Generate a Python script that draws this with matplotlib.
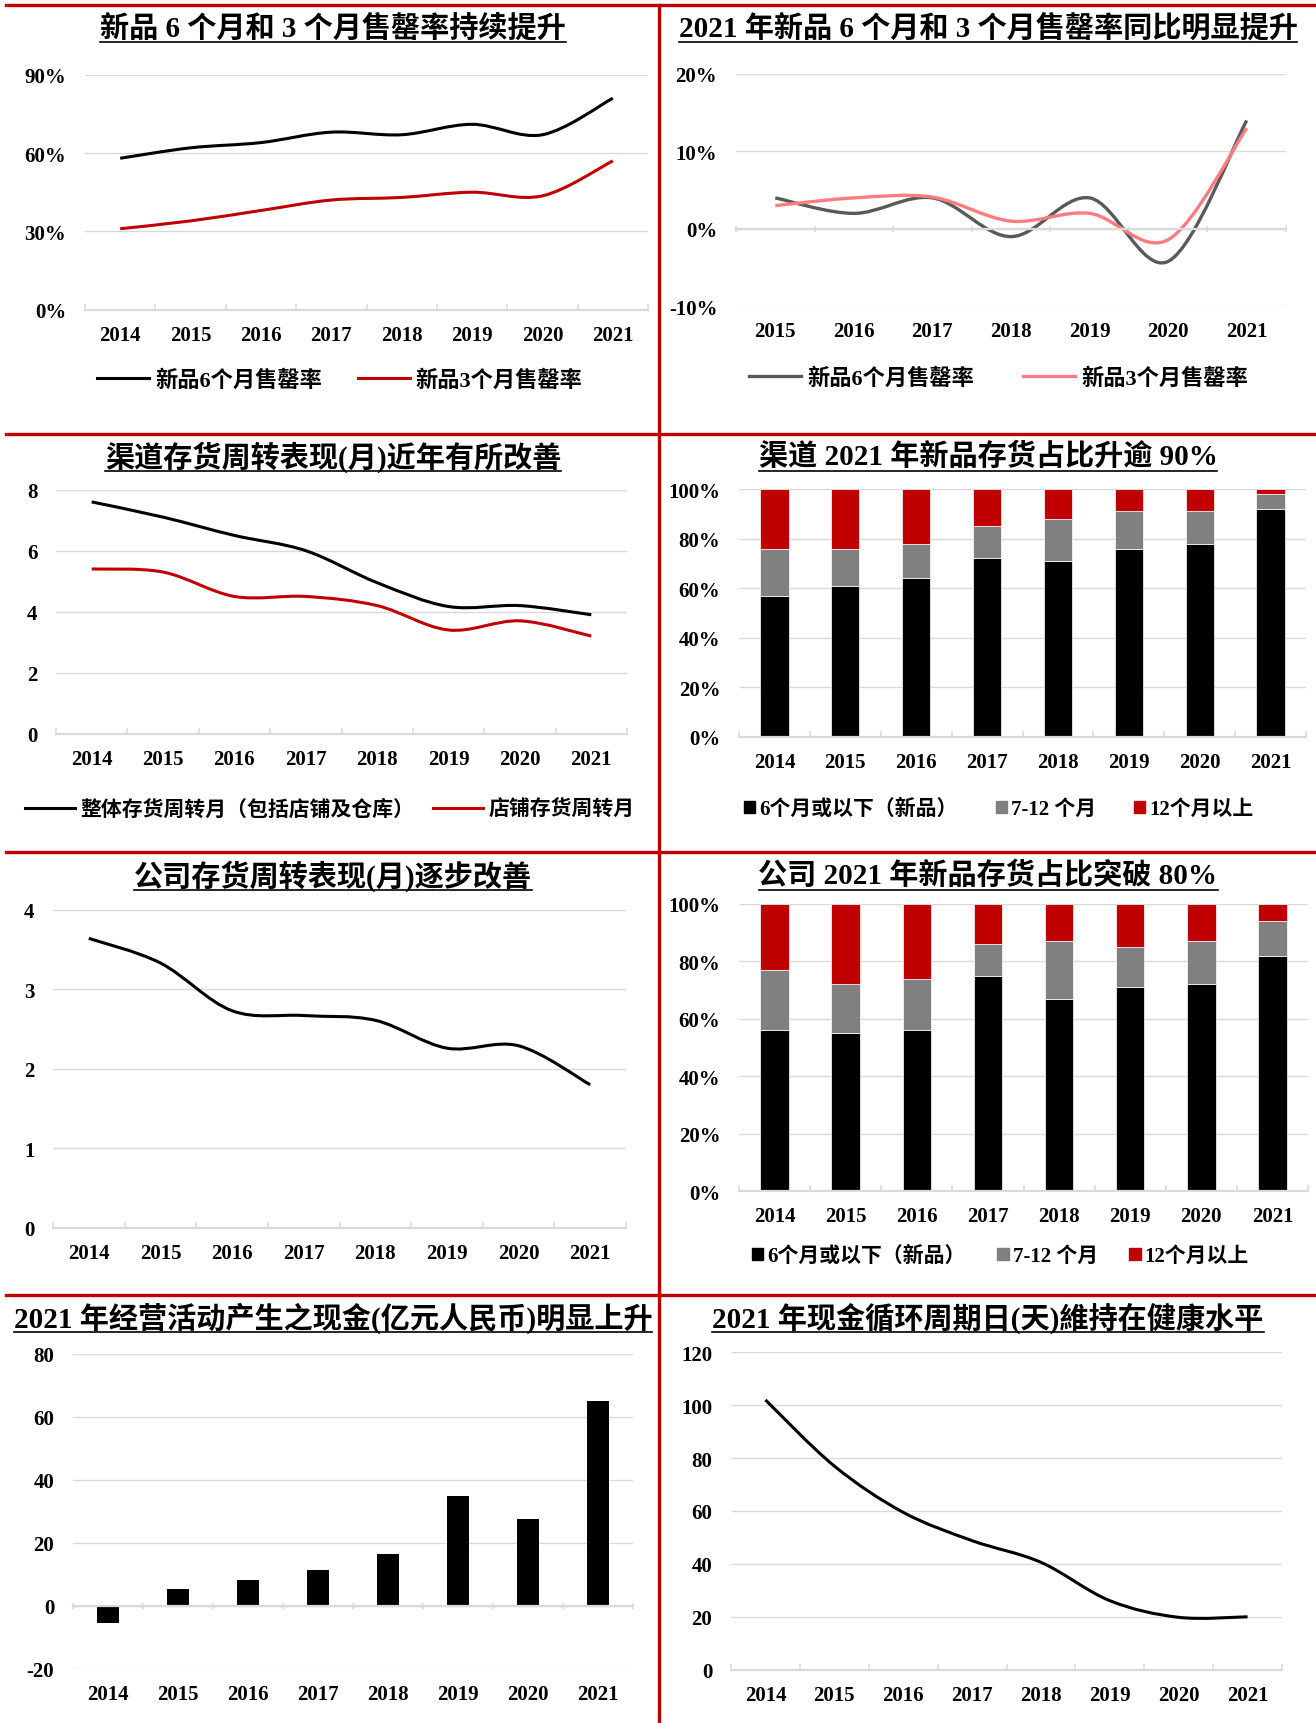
import numpy as np
import matplotlib

matplotlib.use("Agg")
import matplotlib.pyplot as plt
from matplotlib import transforms as mtransforms
from matplotlib.font_manager import FontProperties
from matplotlib.lines import Line2D
from matplotlib.patches import Patch, PathPatch
from matplotlib.path import Path

W, H = 1316, 1724
SERIF = ["Liberation Serif", "Noto Sans CJK SC"]
plt.rcParams["font.family"] = SERIF
plt.rcParams["font.weight"] = "bold"

GRID = "#D9D9D9"
RED = "#C00000"
GRAY = "#808080"

years = ["2014", "2015", "2016", "2017", "2018", "2019", "2020", "2021"]
yoy_years = years[1:]

# sell-through rates (%)
sell6 = [58, 62, 64, 68, 67, 71, 67, 81]
sell3 = [31, 34, 38, 42, 43, 45, 43.6, 57]
sell6_yoy = [4, 2, 4, -1, 4, -4.2, 14]
sell3_yoy = [3, 4, 4.1, 1, 2, -1.4, 13]

# channel inventory turnover (months)
channel_total = [7.6, 7.1, 6.5, 6.0, 4.95, 4.17, 4.2, 3.9]
channel_store = [5.4, 5.3, 4.5, 4.5, 4.2, 3.4, 3.7, 3.2]

# channel inventory ageing mix (%)
channel_new = [57, 61, 64, 72, 71, 76, 78, 92]
channel_mid = [19, 15, 14, 13, 17, 15, 13, 6]
channel_old = [24, 24, 22, 15, 12, 9, 9, 2]

# company inventory turnover (months)
company_turn = [3.64, 3.33, 2.73, 2.67, 2.61, 2.26, 2.29, 1.80]

# company inventory ageing mix (%)
company_new = [56, 55, 56, 75, 67, 71, 72, 82]
company_mid = [21, 17, 18, 11, 20, 14, 15, 12]
company_old = [23, 28, 26, 14, 13, 15, 13, 6]

# operating cash flow (100m RMB) and cash conversion cycle (days)
op_cash = [-5.3, 5.4, 8.3, 11.4, 16.6, 35.0, 27.5, 65.1]
ccc_days = [102, 77, 59.5, 48.8, 40.6, 26.1, 19.8, 20]

mix_labels = ["6个月或以下（新品）", "7-12 个月", "12个月以上"]

fig = plt.figure(figsize=(W / 100, H / 100), dpi=100)


def make_axes(left, top, right, bottom):
    ax = fig.add_axes([left / W, 1 - bottom / H, (right - left) / W, (bottom - top) / H])
    for side in ("top", "left", "right"):
        ax.spines[side].set_visible(False)
    return ax


def style_axes(ax, labels, ylim, step, fmt="{:g}", zero=None, tick_dir="in"):
    n = len(labels)
    ax.set_xlim(-0.5, n - 0.5)
    ax.set_ylim(*ylim)
    ticks = np.arange(ylim[0], ylim[1] + step / 2, step)
    ax.set_yticks(ticks)
    ax.set_yticklabels([fmt.format(v) for v in ticks])
    ax.yaxis.grid(True, color=GRID, lw=1.0)
    ax.set_axisbelow(True)
    ax.tick_params(axis="y", length=0, pad=13.5, labelsize=15)
    ax.set_xticks(np.arange(-0.5, n))
    ax.tick_params(axis="x", direction=tick_dir, length=4.5, width=1.1, color=GRID,
                   labelbottom=False)
    spine = ax.spines["bottom"]
    spine.set_color(GRID)
    spine.set_linewidth(1.6)
    if zero is not None:
        spine.set_position(("data", zero))
    # category labels sit below the plot area, even when the axis line is at zero
    below = mtransforms.offset_copy(ax.get_xaxis_transform(), fig=fig, y=-25, units="dots")
    for i, lab in enumerate(labels):
        ax.text(i, 0, lab, transform=below, ha="center", va="center", fontsize=15,
                fontweight="bold")


def smooth_path(ys):
    """Bezier path through the points, like a smoothed office line chart."""
    pts = np.column_stack([np.arange(len(ys)), ys]).astype(float)
    n = len(pts)
    verts = [pts[0]]
    codes = [Path.MOVETO]
    for i in range(n - 1):
        p0 = pts[i - 1] if i > 0 else pts[i]
        p1, p2 = pts[i], pts[i + 1]
        p3 = pts[i + 2] if i + 2 < n else pts[i + 1]
        verts += [p1 + (p2 - p0) / 6, p2 - (p3 - p1) / 6, p2]
        codes += [Path.CURVE4] * 3
    return Path(verts, codes)


def smooth_line(ax, ys, color, lw=2.2):
    ax.add_patch(PathPatch(smooth_path(ys), fill=False, edgecolor=color, lw=lw,
                           joinstyle="round", capstyle="butt"))
    return Line2D([], [], color=color, lw=lw)


def add_legend(ax, handles, labels, x, y, size, hlen, hpad, cspace, hheight=0.7):
    ax.legend(handles, labels, loc="center left", bbox_to_anchor=(x / W, 1 - y / H),
              bbox_transform=fig.transFigure, ncol=len(handles), frameon=False,
              prop=FontProperties(family=SERIF, weight="bold", size=size),
              handlelength=hlen, handleheight=hheight, handletextpad=hpad,
              columnspacing=cspace, borderpad=0, borderaxespad=0)


titles = []


def add_title(text, cx, cy):
    t = fig.text(cx / W, 1 - cy / H, text, ha="center", va="center", fontsize=21,
                 fontweight="bold")
    titles.append((t, cy))


def stacked(ax, parts, colors):
    x = np.arange(len(parts[0]))
    bottom = np.zeros(len(x))
    for vals, col in zip(parts, colors):
        ax.bar(x, vals, 0.4, bottom=bottom, color=col, edgecolor="white", linewidth=0.5)
        bottom += np.asarray(vals, dtype=float)


# new-product sell-through
ax1 = make_axes(85, 75.7, 648, 310.7)
style_axes(ax1, years, (0, 90), 30, "{:g}%")
h1 = smooth_line(ax1, sell6, "black")
h2 = smooth_line(ax1, sell3, RED)
add_legend(ax1, [h1, h2], ["新品6个月售罄率", "新品3个月售罄率"], 97, 381, 16, 2.35, 0.27, 1.6)
add_title("新品 6 个月和 3 个月售罄率持续提升", 333, 28)

# year-on-year change in sell-through
ax2 = make_axes(736, 75, 1286, 307.3)
style_axes(ax2, yoy_years, (-10, 20), 10, "{:g}%", zero=0, tick_dir="inout")
h1 = smooth_line(ax2, sell6_yoy, "#595959", 2.4)
h2 = smooth_line(ax2, sell3_yoy, "#FF7C80", 2.4)
add_legend(ax2, [h1, h2], ["新品6个月售罄率", "新品3个月售罄率"], 749, 379, 16, 2.35, 0.27, 2.2)
add_title("2021 年新品 6 个月和 3 个月售罄率同比明显提升", 988, 28)

# channel inventory turnover
ax3 = make_axes(56, 490.7, 627, 734.7)
style_axes(ax3, years, (0, 8), 2)
h1 = smooth_line(ax3, channel_total, "black")
h2 = smooth_line(ax3, channel_store, RED)
add_legend(ax3, [h1, h2], ["整体存货周转月（包括店铺及仓库）", "店铺存货周转月"], 25, 811, 15,
           2.4, 0.27, 0.9)
add_title("渠道存货周转表现(月)近年有所改善", 333, 457)

# channel inventory ageing mix
mix_colors = ["black", GRAY, RED]
ax4 = make_axes(739, 490, 1306, 738)
style_axes(ax4, years, (0, 100), 20, "{:g}%")
stacked(ax4, [channel_new, channel_mid, channel_old], mix_colors)
squares = [Patch(color=c) for c in mix_colors]
add_legend(ax4, squares, mix_labels, 744, 810, 15, 0.55, 0.2, 1.8, 0.55)
add_title("渠道 2021 年新品存货占比升逾 90%", 988, 457)

# company inventory turnover
ax5 = make_axes(53, 910.7, 626, 1229)
style_axes(ax5, years, (0, 4), 1)
smooth_line(ax5, company_turn, "black")
add_title("公司存货周转表现(月)逐步改善", 333, 876)

# company inventory ageing mix
ax6 = make_axes(739, 905, 1308, 1192)
style_axes(ax6, years, (0, 100), 20, "{:g}%")
stacked(ax6, [company_new, company_mid, company_old], mix_colors)
add_legend(ax6, squares, mix_labels, 752, 1257, 15, 0.55, 0.2, 1.5, 0.55)
add_title("公司 2021 年新品存货占比突破 80%", 988, 876)

# operating cash flow
ax7 = make_axes(73, 1355, 633, 1670)
style_axes(ax7, years, (-20, 80), 20, zero=0, tick_dir="inout")
ax7.bar(np.arange(len(op_cash)), op_cash, 0.32, color="black")
add_title("2021 年经营活动产生之现金(亿元人民币)明显上升", 333, 1318)

# cash conversion cycle
ax8 = make_axes(731, 1353.3, 1282, 1670.7)
style_axes(ax8, years, (0, 120), 20)
smooth_line(ax8, ccc_days, "black")
add_title("2021 年现金循环周期日(天)維持在健康水平", 988, 1318)

# panel separators
for y in (5.5, 435, 853, 1295.5):
    fig.add_artist(Line2D([6 / W, 1], [1 - y / H] * 2, transform=fig.transFigure,
                          color=RED, lw=2.4))
fig.add_artist(Line2D([658.8 / W] * 2, [1 - 5.5 / H, 0], transform=fig.transFigure,
                      color=RED, lw=2.4))

# underline the panel titles
fig.canvas.draw()
renderer = fig.canvas.get_renderer()
for t, cy in titles:
    bb = t.get_window_extent(renderer)
    yy = 1 - (cy + 15) / H
    fig.add_artist(Line2D([bb.x0 / W, bb.x1 / W], [yy, yy], transform=fig.transFigure,
                          color="black", lw=1.2))

fig.savefig("out.png", dpi=100)
